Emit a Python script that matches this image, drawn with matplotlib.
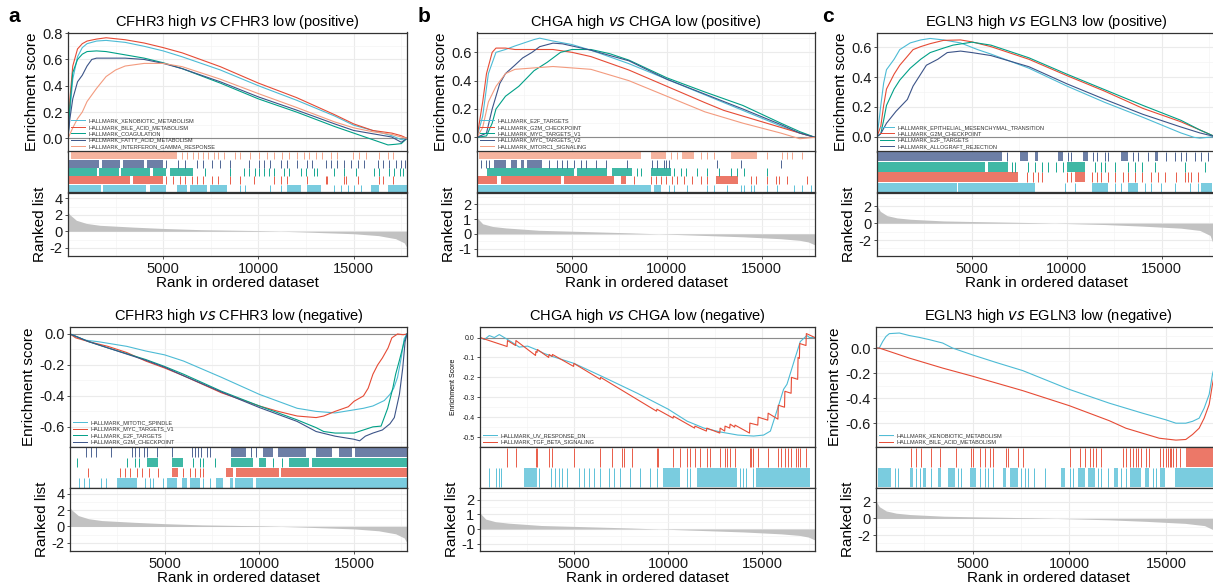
import numpy as np
import matplotlib
matplotlib.use('Agg')
import matplotlib.pyplot as plt
from matplotlib.ticker import FormatStrFormatter
from matplotlib.lines import Line2D

plt.rcParams['font.family'] = ['Liberation Sans', 'DejaVu Sans']
plt.rcParams['axes.unicode_minus'] = False

N_GENES = 17800

# ---- ranked gene lists (rank, metric), one per gene, shared by both panels
cfhr3_rank = [(1, 2.3), (100, 2.0), (440, 1.33), (970, 0.95), (1680, 0.72), (3450, 0.5), (5000, 0.34),
              (7000, 0.19), (10000, 0.08), (12300, -0.08), (15000, -0.3), (16300, -0.53), (17200, -0.9),
              (17650, -1.4), (17800, -2.0)]
chga_rank = [(1, 1.3), (30, 1.05), (300, 0.68), (820, 0.5), (1520, 0.4), (3270, 0.24), (5000, 0.18),
             (8000, 0.07), (10000, -0.02), (12000, -0.11), (14000, -0.2), (16000, -0.33), (17000, -0.44),
             (17450, -0.55), (17800, -0.75)]
egln3_rank = [(1, 2.1), (175, 1.41), (530, 0.9), (1050, 0.63), (1750, 0.47), (3500, 0.27), (5000, 0.2),
              (8000, 0.08), (10000, -0.04), (12000, -0.16), (14000, -0.35), (16000, -0.59), (17000, -0.86),
              (17540, -1.45), (17700, -2.4), (17800, -3.2)]

# ---- a, CFHR3 positive
a_pos_names = ['HALLMARK_XENOBIOTIC_METABOLISM', 'HALLMARK_BILE_ACID_METABOLISM', 'HALLMARK_COAGULATION',
               'HALLMARK_FATTY_ACID_METABOLISM', 'HALLMARK_INTERFERON_GAMMA_RESPONSE']
xeno_a = [(0, 0), (100, 0.2), (250, 0.45), (500, 0.62), (750, 0.69), (1000, 0.72), (1500, 0.74), (2000, 0.745),
          (3000, 0.73), (4000, 0.70), (5000, 0.665), (6000, 0.62), (8000, 0.52), (10000, 0.40), (12000, 0.29),
          (14000, 0.17), (15000, 0.10), (16000, 0.06), (17000, 0.02), (17500, -0.01), (17800, 0)]
bile_a = [(0, 0), (100, 0.3), (250, 0.55), (500, 0.68), (750, 0.72), (1000, 0.74), (1500, 0.755), (2000, 0.765),
          (3000, 0.75), (4000, 0.725), (5000, 0.69), (6000, 0.65), (8000, 0.545), (10000, 0.42), (12000, 0.31),
          (14000, 0.18), (15000, 0.11), (16000, 0.06), (17000, 0.04), (17500, 0.02), (17800, 0)]
coag_a = [(0, 0), (100, 0.25), (250, 0.5), (500, 0.6), (750, 0.64), (1000, 0.66), (1500, 0.665), (2000, 0.66),
          (3000, 0.635), (4000, 0.61), (5000, 0.575), (6000, 0.53), (8000, 0.42), (10000, 0.30), (12000, 0.20),
          (14000, 0.09), (15000, 0.04), (16000, -0.01), (16800, -0.05), (17200, -0.045), (17500, -0.04), (17800, 0)]
fatty_a = [(0, 0), (100, 0.15), (250, 0.3), (500, 0.43), (750, 0.48), (1000, 0.55), (1250, 0.6), (1500, 0.61),
           (2000, 0.61), (3000, 0.61), (4000, 0.6), (5000, 0.57), (6000, 0.53), (8000, 0.43), (10000, 0.315),
           (12000, 0.215), (14000, 0.11), (15000, 0.06), (16000, 0.035), (17000, 0.01), (17500, -0.03), (17800, 0)]
ifng_a = [(0, 0), (250, 0.08), (500, 0.15), (750, 0.2), (1000, 0.28), (1500, 0.38), (2000, 0.47), (2500, 0.52),
          (3000, 0.55), (4000, 0.57), (5000, 0.57), (6000, 0.545), (8000, 0.45), (10000, 0.34), (12000, 0.235),
          (14000, 0.125), (15000, 0.08), (16000, 0.05), (17000, 0.03), (17500, 0.01), (17800, 0)]
# hits: dense stretches (start, end) and single genes
xeno_a_blocks = [(0, 1740), (1830, 4120), (4300, 5170), (5700, 6230), (6400, 7300), (7460, 8340), (11510, 12210),
                 (12570, 13270), (15910, 16350), (16790, 17800)]
xeno_a_ticks = [9050, 9310, 10630, 11160, 13970, 14330, 14680, 15030, 15380]
bile_a_blocks = [(0, 3240), (3420, 5000)]
bile_a_ticks = [5170, 5530, 5880, 6140, 6490, 6760, 7110, 7550, 7900, 8520, 9050, 9750, 10810, 11160, 11510,
                12570, 13530, 13620, 14500, 14590, 15210, 16350, 16530, 17050]
coag_a_blocks = [(0, 1500), (1650, 2700), (2800, 4300), (4470, 5170), (5350, 6580)]
coag_a_ticks = [7200, 8520, 9220, 9490, 9840, 10010, 10280, 10540, 10810, 11330, 11600, 12210, 12480, 12920,
                13090, 13970, 14500, 15120, 16090, 16350, 16880, 17140, 17410, 17580]
fatty_a_blocks = [(0, 1650), (1800, 2750), (2900, 4000), (4150, 5000)]
fatty_a_ticks = [5170, 5790, 6140, 6760, 7110, 7550, 7990, 8480, 9490, 10010, 10280, 10630, 11160, 11510, 12040,
                 12530, 12830, 13530, 13800, 14150, 14500, 14850, 15210, 15560, 16260, 16530, 16880, 17230, 17490,
                 17670]
ifng_a_blocks = [(160, 5700)]
ifng_a_ticks = [5970, 6270, 6580, 6850, 7110, 7370, 7640, 7900, 8170, 8780, 9050, 9570, 10010, 10450, 10810,
                11250, 11600, 12040, 12390, 12650, 13010, 13360, 13800, 14150, 14940, 15290, 15650, 16350, 16790,
                17050]

# ---- b, CHGA positive
b_pos_names = ['HALLMARK_E2F_TARGETS', 'HALLMARK_G2M_CHECKPOINT', 'HALLMARK_MYC_TARGETS_V1',
               'HALLMARK_MYC_TARGETS_V2', 'HALLMARK_MTORC1_SIGNALING']
e2f_b = [(0, 0), (300, 0.15), (600, 0.45), (1000, 0.6), (1500, 0.62), (2000, 0.645), (3000, 0.69), (3300, 0.70),
         (4000, 0.68), (5000, 0.655), (6000, 0.615), (8000, 0.52), (10000, 0.41), (12000, 0.30), (14000, 0.19),
         (16000, 0.08), (17000, 0.03), (17800, 0)]
g2m_b = [(0, 0), (300, 0.25), (500, 0.45), (800, 0.6), (1000, 0.63), (1500, 0.63), (2000, 0.62), (3000, 0.62),
         (4000, 0.62), (5000, 0.60), (6000, 0.57), (8000, 0.475), (10000, 0.36), (12000, 0.245), (13000, 0.19),
         (14000, 0.15), (16000, 0.07), (17000, 0.03), (17800, 0)]
mycv1_b = [(0, 0), (500, 0.01), (800, 0.1), (1000, 0.2), (1500, 0.29), (2200, 0.36), (3000, 0.47), (3700, 0.53),
           (4400, 0.6), (5000, 0.62), (6000, 0.62), (7000, 0.59), (8000, 0.545), (10000, 0.42), (12000, 0.32),
           (14000, 0.225), (16000, 0.10), (17000, 0.04), (17800, 0)]
mycv2_b = [(0, 0), (500, 0.03), (800, 0.2), (1200, 0.38), (1500, 0.45), (2000, 0.51), (2400, 0.56), (2900, 0.6),
           (3300, 0.64), (4000, 0.665), (4500, 0.66), (5000, 0.645), (6000, 0.615), (8000, 0.54), (10000, 0.41),
           (12000, 0.305), (14000, 0.20), (16000, 0.09), (17000, 0.03), (17800, 0)]
mtorc1_b = [(0, 0), (300, 0.07), (600, 0.25), (1000, 0.36), (1500, 0.45), (2000, 0.48), (3000, 0.49),
            (4000, 0.5), (5000, 0.49), (6000, 0.48), (8000, 0.40), (10000, 0.29), (12000, 0.18), (14000, 0.10),
            (16000, 0.03), (17000, -0.01), (17800, 0)]
e2f_b_blocks = [(0, 9140), (9320, 9670)]
e2f_b_ticks = [10110, 10370, 11070, 12130, 12480, 13180, 13880, 14060, 14410, 14590, 15290, 15810, 16690, 17130,
               17570]
g2m_b_blocks = [(0, 1070), (1250, 4400), (4580, 7210), (7560, 7830), (12570, 13720)]
g2m_b_ticks = [8270, 9140, 9410, 9670, 9930, 10280, 10550, 10900, 11340, 11780, 12130, 14410, 14670, 15290,
               15730, 15900, 16340, 17390]
mycv1_b_blocks = [(540, 5110), (5280, 6860), (7130, 8180), (9140, 10200)]
mycv1_b_ticks = [8440, 8620, 10370, 10720, 10990, 11600, 12130, 12740, 13360, 13710, 14060, 15290]
mycv2_b_blocks = [(900, 1510), (1770, 2120), (2300, 2480), (2650, 3440)]
mycv2_b_ticks = [190, 460, 630, 3790, 4230, 4490, 4760, 5110, 5460, 5720, 6250, 6780, 7920, 9230, 9490, 9830,
                 9930, 10110, 12650, 13880, 15990]
mtorc1_b_blocks = [(100, 8620), (9140, 9930), (10810, 11430), (13360, 14760)]
mtorc1_b_ticks = [10200, 10550, 11780, 12130, 12480, 15290, 16080, 16340, 16600, 17130]

# ---- c, EGLN3 positive
c_pos_names = ['HALLMARK_EPITHELIAL_MESENCHYMAL_TRANSITION', 'HALLMARK_G2M_CHECKPOINT', 'HALLMARK_E2F_TARGETS',
               'HALLMARK_ALLOGRAFT_REJECTION']
emt_c = [(0, 0), (100, 0.1), (200, 0.21), (350, 0.36), (500, 0.45), (900, 0.52), (1200, 0.585), (1750, 0.63),
         (2300, 0.65), (2800, 0.66), (3500, 0.65), (4400, 0.63), (5300, 0.585), (6000, 0.555), (8000, 0.46),
         (10000, 0.34), (12000, 0.23), (14000, 0.13), (16000, 0.025), (16700, -0.005), (17000, -0.01), (17800, 0)]
g2m_c = [(0, 0), (200, 0.07), (350, 0.21), (500, 0.32), (900, 0.42), (1200, 0.48), (1600, 0.54), (1900, 0.585),
         (2300, 0.605), (2800, 0.625), (3500, 0.647), (4400, 0.65), (5000, 0.637), (6000, 0.605), (8000, 0.52),
         (10000, 0.41), (12000, 0.305), (14000, 0.19), (16000, 0.10), (17000, 0.045), (17800, 0)]
e2f_c = [(0, 0), (200, 0.02), (350, 0.11), (500, 0.21), (900, 0.32), (1200, 0.38), (1750, 0.46), (2300, 0.52),
         (2800, 0.565), (3500, 0.595), (4000, 0.615), (5000, 0.635), (6000, 0.615), (8000, 0.53), (10000, 0.42),
         (12000, 0.315), (14000, 0.21), (16000, 0.11), (17000, 0.045), (17800, 0)]
allo_c = [(0, 0), (200, 0.02), (500, 0.09), (1000, 0.17), (1600, 0.25), (1900, 0.34), (2300, 0.42), (2600, 0.48),
          (3200, 0.52), (3700, 0.565), (4400, 0.575), (5000, 0.565), (6000, 0.545), (8000, 0.47), (10000, 0.355),
          (12000, 0.25), (14000, 0.15), (16000, 0.065), (17000, 0.025), (17800, 0)]
emt_c_blocks = [(0, 4190), (4280, 8310), (11300, 12170), (13220, 13750), (17080, 17620)]
emt_c_ticks = [9890, 10420, 12520, 12870, 14100, 14450, 14980, 15680, 16470, 16910]
g2m_c_blocks = [(0, 7440), (10420, 10940)]
g2m_c_ticks = [7880, 8230, 8490, 8670, 9980, 10240, 11300, 11560, 11820, 12170, 12520, 12960, 13220, 13570,
               13930, 14450, 14800, 15150, 15770, 16210, 16390, 16560, 16910]
e2f_c_blocks = [(0, 5680), (5860, 6910), (9980, 10940)]
e2f_c_ticks = [7090, 7260, 7960, 8310, 8670, 9020, 9450, 9810, 11470, 11820, 11990, 12520, 13220, 13570, 13930,
               14630, 16210, 17260]
allo_c_blocks = [(0, 6560), (7530, 7960), (8310, 8490), (9540, 9810), (10860, 11120), (12870, 13220),
                 (14630, 14800)]
allo_c_ticks = [6820, 10070, 10240, 11380, 11560, 11990, 12170, 13490, 13750, 14280, 15240, 15680, 16030, 16290,
                16740, 17080, 17440]

# ---- a, CFHR3 negative
a_neg_names = ['HALLMARK_MITOTIC_SPINDLE', 'HALLMARK_MYC_TARGETS_V1', 'HALLMARK_E2F_TARGETS',
               'HALLMARK_G2M_CHECKPOINT']
mitotic_a = [(0, 0), (800, -0.04), (1500, -0.05), (2000, -0.06), (3000, -0.08), (4000, -0.11), (5000, -0.135),
             (6000, -0.175), (8000, -0.28), (10000, -0.39), (11000, -0.435), (12000, -0.48), (13000, -0.50),
             (14000, -0.51), (15000, -0.49), (15500, -0.48), (16000, -0.465), (16600, -0.43), (16900, -0.39),
             (17100, -0.35), (17300, -0.28), (17500, -0.15), (17650, -0.03), (17800, 0)]
mycv1_a = [(0, 0), (300, -0.025), (1000, -0.05), (2000, -0.08), (3000, -0.12), (4000, -0.175), (5000, -0.22),
           (6000, -0.27), (8000, -0.38), (10000, -0.465), (11000, -0.50), (12000, -0.53), (13000, -0.54),
           (13400, -0.53), (14000, -0.50), (14700, -0.47), (15000, -0.435), (15500, -0.40), (15750, -0.35),
           (16000, -0.26), (16250, -0.20), (16500, -0.155), (16800, -0.09), (17000, -0.025), (17300, 0.0),
           (17600, -0.005), (17800, 0)]
e2f_a = [(0, 0), (1000, -0.05), (2000, -0.09), (4000, -0.165), (5000, -0.21), (6000, -0.26), (8000, -0.37),
         (10000, -0.465), (12000, -0.555), (13000, -0.605), (13400, -0.63), (14000, -0.64), (15000, -0.64),
         (15500, -0.62), (16000, -0.60), (16430, -0.595), (16780, -0.48), (17050, -0.35), (17200, -0.26),
         (17400, -0.17), (17650, -0.05), (17800, 0)]
g2m_a = [(0, 0), (1000, -0.05), (2000, -0.09), (4000, -0.17), (5000, -0.215), (6000, -0.27), (8000, -0.375),
         (10000, -0.475), (12000, -0.565), (13000, -0.63), (14000, -0.66), (15000, -0.68), (15300, -0.69),
         (15600, -0.66), (16000, -0.64), (16500, -0.62), (16900, -0.58), (17130, -0.54), (17400, -0.39),
         (17575, -0.22), (17700, -0.05), (17800, 0)]
mitotic_a_blocks = [(2490, 3540), (5110, 5630), (5900, 6160), (6330, 6860), (7730, 8080), (8430, 8600),
                    (8690, 9650), (9830, 17800)]
mitotic_a_ticks = [480, 740, 1010, 1620, 1880, 3980, 4240, 4410, 4930, 7030, 7380]
mycv1_a_blocks = [(5370, 5720), (8250, 8600), (8780, 11050), (11140, 17800)]
mycv1_a_ticks = [950, 2660, 2930, 3190, 3540, 3800, 4150, 4670, 5980, 6330, 6600, 6860, 7030]
e2f_a_blocks = [(4060, 4670), (5370, 5980), (8520, 9650), (9960, 10350), (11570, 12620), (12800, 17800)]
e2f_a_ticks = [390, 3010, 3450, 3630, 6510, 6860, 7030, 7640, 10700, 11220]
g2m_a_blocks = [(8520, 9300), (10180, 10700), (10960, 12450), (12970, 13850), (14200, 14900), (15070, 17800)]
g2m_a_ticks = [830, 1090, 1350, 2140, 3280, 3450, 3630, 3890, 4060, 4590, 5370, 6420, 6600, 6770, 6940, 7210,
               7380, 9570, 9830]

# ---- b, CHGA negative
b_neg_names = ['HALLMARK_UV_RESPONSE_DN', 'HALLMARK_TGF_BETA_SIGNALING']
uvdn_b = [(0, 0), (230, -0.01), (495, 0.01), (760, 0.0), (1025, 0.015), (1290, 0.0), (1640, -0.02),
          (2085, -0.048), (2530, -0.043), (2970, -0.06), (3410, -0.08), (3850, -0.095), (5000, -0.13),
          (6590, -0.2), (8360, -0.28), (10000, -0.36), (11000, -0.42), (11900, -0.455), (12800, -0.475),
          (13700, -0.49), (14540, -0.495), (15070, -0.49), (15430, -0.47), (15600, -0.42), (15870, -0.34),
          (16130, -0.26), (16310, -0.235), (16490, -0.18), (16750, -0.10), (17020, -0.02), (17370, 0.01),
          (17510, 0), (17800, 0)]
tgf_b = [(0, 0), (1440, -0.045), (1460, -0.015), (1890, -0.04), (1910, -0.015), (2950, -0.09), (2970, -0.07),
         (3030, -0.075), (3050, -0.06), (3650, -0.1), (3670, -0.085), (3830, -0.095), (3850, -0.085),
         (4970, -0.145), (4990, -0.13), (6390, -0.21), (6410, -0.2), (9380, -0.37), (9400, -0.36),
         (10260, -0.405), (10280, -0.395), (11400, -0.455), (11420, -0.445), (12030, -0.47), (12050, -0.455),
         (12740, -0.48), (12760, -0.455), (13000, -0.47), (13020, -0.445), (13270, -0.455), (13290, -0.435),
         (13530, -0.45), (13550, -0.44), (14320, -0.48), (14340, -0.43), (14760, -0.44), (14780, -0.4),
         (15290, -0.415), (15310, -0.38), (15830, -0.41), (15850, -0.34), (16180, -0.35), (16200, -0.27),
         (16530, -0.28), (16550, -0.2), (16880, -0.21), (16900, -0.1), (16970, -0.105), (16990, -0.03),
         (17320, -0.04), (17340, 0.02), (17800, 0)]
uvdn_b_blocks = [(2340, 3040), (9750, 10630), (11510, 13630), (14690, 17510)]
uvdn_b_ticks = [490, 840, 1010, 1100, 3130, 3750, 4010, 4190, 4370, 4630, 5250, 5510, 5780, 6040, 6400, 6840,
                7100, 7450, 7980, 8510, 9040, 9390, 10980, 11160, 13800, 13980, 14160, 14510]
tgf_b_blocks = []
tgf_b_ticks = [1455, 1900, 2960, 3040, 3660, 3840, 4980, 6400, 7010, 7540, 7630, 8070, 9390, 9480, 10270, 10630,
               10980, 11160, 11420, 11690, 12040, 12220, 12750, 13010, 13100, 13280, 13540, 14330, 14420, 14510,
               14770, 15300, 15830, 16010, 16190, 16360, 16540, 16800, 16890, 16980, 17330]

# ---- c, EGLN3 negative
c_neg_names = ['HALLMARK_XENOBIOTIC_METABOLISM', 'HALLMARK_BILE_ACID_METABOLISM']
xeno_c = [(0, 0), (170, 0), (350, 0.053), (520, 0.093), (690, 0.115), (1210, 0.12), (1720, 0.10), (2240, 0.085),
          (2760, 0.067), (3450, 0.04), (3960, 0.0), (5000, -0.055), (6210, -0.115), (7590, -0.18),
          (10000, -0.33), (12070, -0.44), (13790, -0.52), (15000, -0.573), (15520, -0.6), (16030, -0.6),
          (16380, -0.585), (16720, -0.56), (16980, -0.48), (17240, -0.37), (17410, -0.21), (17600, -0.1),
          (17800, 0)]
bile_c = [(0, 0), (170, 0), (1720, -0.08), (3450, -0.16), (5000, -0.225), (7590, -0.34), (10000, -0.46),
          (12070, -0.58), (12930, -0.64), (13790, -0.68), (14660, -0.72), (15520, -0.735), (16030, -0.73),
          (16380, -0.69), (16720, -0.64), (16980, -0.56), (17240, -0.45), (17410, -0.29), (17600, -0.14),
          (17800, 0)]
xeno_c_blocks = [(100, 790), (1740, 1910), (2430, 2600), (3210, 3380), (3720, 4070), (4840, 5190), (6570, 6740),
                 (6910, 7340), (9590, 9760), (10450, 10790), (10970, 11310), (12340, 12520), (13120, 13720),
                 (13900, 14150), (14670, 14930), (15450, 17800)]
xeno_c_ticks = [960, 1140, 2090, 2260, 2860, 4240, 4410, 5360, 5620, 5790, 6050, 7520, 7690, 7860, 8200, 8720,
                10020, 10190, 11480, 11650, 12000, 12690, 12950, 14330, 14500]
bile_c_blocks = [(16050, 17800)]
bile_c_ticks = [1830, 2090, 2310, 2860, 3290, 4150, 4930, 5020, 5360, 5620, 5880, 6050, 6740, 6830, 7340, 7600,
                10020, 10540, 10790, 11050, 11220, 11400, 11650, 12780, 12950, 13120, 13290, 13470, 13550, 13720,
                13980, 14150, 14670, 14840, 15020, 15100, 15190, 15280, 15360, 15530, 15710]

# npg palette, in legend order
PAL = ['#4DBBD5', '#E64B35', '#00A087', '#3C5488', '#F39B7F']

W, H = 1213, 588
fig = plt.figure(figsize=(W / 100, H / 100), dpi=100)


def box(x0, x1, y0, y1):
    return [x0 / W, 1 - y1 / H, (x1 - x0) / W, (y1 - y0) / H]


def frame(ax):
    for s in ax.spines.values():
        s.set_color('#333333')
        s.set_linewidth(0.9)
    ax.set_xlim(0, N_GENES)


def xgrid(ax):
    ax.set_xticks([5000, 10000, 15000])
    ax.set_xticks([2500, 7500, 12500, 17500], minor=True)


def draw(x0, x1, rows, title, names, curves, blocks, ticks, rank, es_lim, es_major, rk_lim, rk_major,
         small=False):
    y0, y1, y2, y3 = rows
    n = len(names)
    ax1 = fig.add_axes(box(x0, x1, y0, y1))
    ax2 = fig.add_axes(box(x0, x1, y1, y2))
    ax3 = fig.add_axes(box(x0, x1, y2, y3))

    # running enrichment score
    frame(ax1)
    xgrid(ax1)
    ax1.set_ylim(*es_lim)
    ax1.set_yticks(es_major)
    step = es_major[1] - es_major[0]
    ax1.set_yticks(np.arange(es_major[0] - step / 2, es_lim[1], step), minor=True)
    ax1.grid(which='major', color='#EBEBEB', lw=0.8)
    ax1.grid(which='minor', color='#F4F4F4', lw=0.5)
    ax1.set_axisbelow(True)
    ax1.axhline(0, color='#8C8C8C', lw=0.8, zorder=1.5)
    handles = []
    for i, c in enumerate(curves):
        xs, ys = zip(*c)
        ax1.plot(xs, ys, color=PAL[i], lw=0.8, zorder=2)
        handles.append(Line2D([], [], color=PAL[i], lw=0.7))
    ax1.legend(handles, names, loc='lower left', fontsize=4, frameon=False, handlelength=2.6,
               handletextpad=0.6, labelspacing=0.25, borderaxespad=0.25, borderpad=0.2,
               labelcolor='#333333')
    ax1.yaxis.set_major_formatter(FormatStrFormatter('%.1f'))
    fs = 5 if small else 10.5
    ax1.tick_params(axis='x', which='both', length=0, labelbottom=False)
    ax1.tick_params(axis='y', which='major', length=2.5, width=0.6, color='#333333', labelsize=fs,
                    pad=1.5, labelcolor='#1A1A1A')
    ax1.tick_params(axis='y', which='minor', length=0)
    ax1.set_title(title, fontsize=10.5, pad=5)
    if small:
        ax1.set_ylabel('Enrichment Score', fontsize=5, labelpad=4)
    else:
        ax1.set_ylabel('Enrichment score', fontsize=11, labelpad=2)

    # hit positions, one row per gene set, first set at the bottom
    frame(ax2)
    ax2.set_ylim(0, n)
    ax2.set_xticks([])
    ax2.set_yticks([])
    for i in range(n):
        if blocks[i]:
            ax2.broken_barh([(s, e - s) for s, e in blocks[i]], (i + 0.04, 0.92), color=PAL[i], alpha=0.75,
                            lw=0)
        ax2.vlines(ticks[i], i + 0.04, i + 0.96, color=PAL[i], lw=0.7, alpha=0.9)

    # ranked list metric
    frame(ax3)
    xgrid(ax3)
    rx, ry = zip(*rank)
    ax3.fill_between(rx, ry, 0, color='#C2C2C2', lw=0, zorder=2)
    ax3.set_ylim(*rk_lim)
    ax3.set_yticks(rk_major)
    rstep = rk_major[1] - rk_major[0]
    ax3.set_yticks(np.arange(rk_major[0] - rstep / 2, rk_lim[1], rstep), minor=True)
    ax3.grid(which='major', color='#EBEBEB', lw=0.8)
    ax3.grid(which='minor', color='#F4F4F4', lw=0.5)
    ax3.set_axisbelow(True)
    ax3.tick_params(which='major', length=2.5, width=0.6, color='#333333', labelsize=10.5, pad=1.5,
                    labelcolor='#1A1A1A')
    ax3.tick_params(which='minor', length=0)
    ax3.set_ylabel('Ranked list', fontsize=11, labelpad=2)
    ax3.set_xlabel('Rank in ordered dataset', fontsize=11, labelpad=0)


TOP = (32.5, 151.5, 192.5, 256)
BOT = (327, 447, 488, 551)

draw(68, 407, TOP, r'CFHR3 high $\it{vs}$ CFHR3 low (positive)', a_pos_names,
     [xeno_a, bile_a, coag_a, fatty_a, ifng_a],
     [xeno_a_blocks, bile_a_blocks, coag_a_blocks, fatty_a_blocks, ifng_a_blocks],
     [xeno_a_ticks, bile_a_ticks, coag_a_ticks, fatty_a_ticks, ifng_a_ticks],
     cfhr3_rank, (-0.09, 0.805), [0, 0.2, 0.4, 0.6, 0.8], (-2.6, 4.7), [-2, 0, 2, 4])
draw(477, 815, TOP, r'CHGA high $\it{vs}$ CHGA low (positive)', b_pos_names,
     [e2f_b, g2m_b, mycv1_b, mycv2_b, mtorc1_b],
     [e2f_b_blocks, g2m_b_blocks, mycv1_b_blocks, mycv2_b_blocks, mtorc1_b_blocks],
     [e2f_b_ticks, g2m_b_ticks, mycv1_b_ticks, mycv2_b_ticks, mtorc1_b_ticks],
     chga_rank, (-0.046, 0.74), [0, 0.2, 0.4, 0.6], (-1.4, 2.8), [-1, 0, 1, 2])
draw(877, 1215, TOP, r'EGLN3 high $\it{vs}$ EGLN3 low (positive)', c_pos_names,
     [emt_c, g2m_c, e2f_c, allo_c],
     [emt_c_blocks, g2m_c_blocks, e2f_c_blocks, allo_c_blocks],
     [emt_c_ticks, g2m_c_ticks, e2f_c_ticks, allo_c_ticks],
     egln3_rank, (-0.044, 0.70), [0, 0.2, 0.4, 0.6], (-3.9, 3.65), [-2, 0, 2])
draw(70, 407, BOT, r'CFHR3 high $\it{vs}$ CFHR3 low (negative)', a_neg_names,
     [mitotic_a, mycv1_a, e2f_a, g2m_a],
     [mitotic_a_blocks, mycv1_a_blocks, e2f_a_blocks, g2m_a_blocks],
     [mitotic_a_ticks, mycv1_a_ticks, e2f_a_ticks, g2m_a_ticks],
     cfhr3_rank, (-0.73, 0.045), [-0.6, -0.4, -0.2, 0.0], (-2.7, 4.7), [-2, 0, 2, 4])
draw(480, 815, BOT, r'CHGA high $\it{vs}$ CHGA low (negative)', b_neg_names,
     [uvdn_b, tgf_b], [uvdn_b_blocks, tgf_b_blocks], [uvdn_b_ticks, tgf_b_ticks],
     chga_rank, (-0.524, 0.053), [-0.5, -0.4, -0.3, -0.2, -0.1, 0.0], (-1.4, 2.8), [-1, 0, 1, 2], small=True)
draw(876, 1220, BOT, r'EGLN3 high $\it{vs}$ EGLN3 low (negative)', c_neg_names,
     [xeno_c, bile_c], [xeno_c_blocks, bile_c_blocks], [xeno_c_ticks, bile_c_ticks],
     egln3_rank, (-0.79, 0.168), [-0.6, -0.4, -0.2, 0.0], (-3.9, 3.65), [-2, 0, 2])

for letter, x in [('a', 8), ('b', 418), ('c', 822)]:
    fig.text(x / W, 1 - 22 / H, letter, fontsize=15, fontweight='bold', va='baseline')

fig.savefig('out.png', dpi=100)
